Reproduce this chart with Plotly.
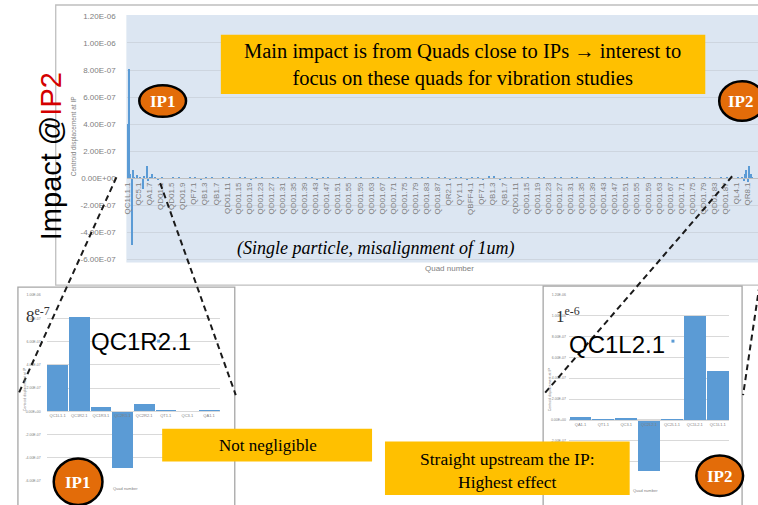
import plotly.graph_objects as go

W, H = 758, 505


def px(x):
    return x / W


def py(y):
    return 1 - y / H


# ---------------- Main chart: centroid displacement at IP per quad ----------------
main_tick_labels = [
    "QC1L1.1", "QC5.1", "QA1.7", "QD01.1", "QD01.5", "QD01.9", "QF7.1", "QB1.3", "QB1.7",
    "QD01.11", "QD01.15", "QD01.19", "QD01.23", "QD01.27", "QD01.31", "QD01.35", "QD01.39",
    "QD01.43", "QD01.47", "QD01.51", "QD01.55", "QD01.59", "QD01.63", "QD01.67", "QD01.71",
    "QD01.75", "QD01.79", "QD01.83", "QD01.87",
    "QR2.1", "QY1.1", "QBFF4.1", "QF7.1", "QB1.3", "QB1.7",
    "QD01.11", "QD01.15", "QD01.19", "QD01.23", "QD01.27", "QD01.31", "QD01.35", "QD01.39",
    "QD01.43", "QD01.47", "QD01.51", "QD01.55", "QD01.59", "QD01.63", "QD01.67", "QD01.71",
    "QD01.75", "QD01.79", "QD01.83", "QD01.87",
    "QL4.1", "QR8.1",
]
quads_per_label = 8
n_quads = 456

# quads right after IP1 (m)
ip1_impact = [
    4.0e-7, 8.1e-7, 3e-8, -4.9e-7, 6.5e-8, 1e-8, 0.0, 2.5e-8,
    0.0, 1e-8, 0.0, -8e-8, 1.5e-8, 0.0, 8.8e-8, -2e-8,
    1e-8, 0.0, 3.5e-8, 0.0, 1e-8, 0.0, -1e-8, 0.0,
]
# quads right before IP2 (m)
ip2_impact = [1e-8, -2e-8, 3e-8, 6.5e-8, -3e-8, 9e-8, 3.5e-8, 1e-8, 0.0, 0.0, 0.0, 0.0]
# arc quads, every 4th quad (nm)
arc_ripple_nm = [
    6, -4, 5, 8, -3, 6, 9, -5, 7, 4,
    -3, 5, 6, -4, 5, 3, -5, 6, 4, -3,
    5, 6, -4, 3, 5, -3, 6, 4, -5, 5,
    3, -4, 6, 5, -3, 4, 6, -4, 5, 3,
    -3, 5, 6, -4, 4, 5, -3, 6, 4, -4,
    5, 7, -5, 9, 6, -6, 10, 8, -7, 14,
    16, -9, 12, 8, -4, 6, 5, -3, 5, 4,
    -4, 6, 5, -3, 4, 6, -4, 5, 3, -3,
    5, 6, -4, 4, 5, -3, 6, 4, -4, 5,
    3, -3, 6, 5, -4, 4, 6, -3, 5, 4,
    -4, 6, 5, -3, 6,
]
main_y_labels = ["-6.00E-07", "-4.00E-07", "-2.00E-07", "0.00E+00", "2.00E-07",
                 "4.00E-07", "6.00E-07", "8.00E-07", "1.00E-06", "1.20E-06"]

# ---------------- Inset around IP1 ----------------
ip1_quads = ["QC1L1.1", "QC1R2.1", "QC1R3.1", "QC2R1.1", "QC2R2.1", "QT1.1", "QC3.1", "QA1.1"]
ip1_values = [4.0e-7, 8.1e-7, 3.5e-8, -4.9e-7, 6e-8, 1e-8, 0.0, 1e-8]
ip1_y_labels = ["-6.00E-07", "-4.00E-07", "-2.00E-07", "0.00E+00", "2.00E-07",
                "4.00E-07", "6.00E-07", "8.00E-07", "1.00E-06"]

# ---------------- Inset around IP2 ----------------
ip2_quads = ["QA1.1", "QT1.1", "QC3.1", "QC2L2.1", "QC2L1.1", "QC1L2.1", "QC1L1.1"]
ip2_values = [3e-8, -1.5e-8, 2e-8, -4.9e-7, -5e-9, 1.0e-6, 4.7e-7]
ip2_y_labels = ["-6.00E-07", "-4.00E-07", "-2.00E-07", "0.00E+00", "2.00E-07",
                "4.00E-07", "6.00E-07", "8.00E-07", "1.00E-06", "1.20E-06"]

BAR = "#5B9BD5"
GRID = "#D9D9D9"
TICK = "#808080"

# full series of the main chart
arc = [0.0] * (n_quads - len(ip1_impact) - len(ip2_impact))
for i, v in enumerate(arc_ripple_nm):
    arc[4 * i + 1] = v * 1e-9
impact = ip1_impact + arc + ip2_impact

fig = go.Figure()
fig.add_trace(go.Bar(x=list(range(n_quads)), y=impact, width=1.0, marker=dict(color=BAR, line=dict(width=0)),
                     xaxis="x", yaxis="y", showlegend=False))
fig.add_trace(go.Bar(x=ip1_quads, y=ip1_values, width=0.96, marker=dict(color=BAR, line=dict(width=0)),
                     xaxis="x2", yaxis="y2", showlegend=False))
fig.add_trace(go.Bar(x=ip2_quads, y=ip2_values, width=0.95, marker=dict(color=BAR, line=dict(width=0)),
                     xaxis="x3", yaxis="y3", showlegend=False))

# main axes geometry (px)
m_top, m_bot = 12, 262
k = 1.8e-6 / 246
m_range = [-6e-7 - 3 * k, 1.2e-6 + 1 * k]
m_zero_px = m_top + m_range[1] / (m_range[1] - m_range[0]) * (m_bot - m_top)

l_top, l_bot = 295, 483
l_range = [-6e-7, 1e-6]
l_zero_px = l_top + l_range[1] / (l_range[1] - l_range[0]) * (l_bot - l_top)

r_top, r_bot = 295, 484
r_range = [-6e-7, 1.2e-6]
r_zero_px = r_top + r_range[1] / (r_range[1] - r_range[0]) * (r_bot - r_top)

tickfont_main = dict(family="Liberation Sans", size=8, color=TICK)

fig.update_layout(
    width=W, height=H, margin=dict(l=0, r=0, t=0, b=0),
    paper_bgcolor="white", plot_bgcolor="rgba(0,0,0,0)",
    bargap=0, showlegend=False,
    xaxis=dict(domain=[px(123.3), 1], range=[-0.5, n_quads - 0.5],
               tickmode="array", tickvals=[quads_per_label * i for i in range(len(main_tick_labels))],
               ticktext=main_tick_labels, tickangle=-90, tickfont=tickfont_main,
               anchor="free", position=py(m_zero_px), showline=True, linecolor="#BFBFBF",
               linewidth=1, showgrid=False, zeroline=False, ticks=""),
    yaxis=dict(domain=[py(m_bot), py(m_top)], range=m_range, tickmode="array",
               tickvals=[float(t) for t in main_y_labels], ticktext=main_y_labels,
               tickfont=tickfont_main, gridcolor="#CDD5DF", gridwidth=1, zeroline=False,
               showline=False, ticks="", ticklabelstandoff=10),
    xaxis2=dict(domain=[px(43), px(217)], anchor="free", position=py(l_zero_px),
                tickfont=dict(family="Liberation Sans", size=4, color=TICK), tickangle=0,
                showline=True, linecolor=GRID, showgrid=False, zeroline=False, ticks=""),
    yaxis2=dict(domain=[py(l_bot), py(l_top)], range=l_range, anchor="x2", tickmode="array",
                tickvals=[float(t) for t in ip1_y_labels], ticktext=ip1_y_labels,
                tickfont=dict(family="Liberation Sans", size=3.5, color=TICK),
                gridcolor=GRID, zeroline=False, ticks="", ticklabelstandoff=5),
    xaxis3=dict(domain=[px(568), px(729)], anchor="free", position=py(r_zero_px),
                tickfont=dict(family="Liberation Sans", size=4, color=TICK), tickangle=0,
                showline=True, linecolor=GRID, showgrid=False, zeroline=False, ticks=""),
    yaxis3=dict(domain=[py(r_bot), py(r_top)], range=r_range, anchor="x3", tickmode="array",
                tickvals=[float(t) for t in ip2_y_labels], ticktext=ip2_y_labels,
                tickfont=dict(family="Liberation Sans", size=3.5, color=TICK),
                gridcolor=GRID, zeroline=False, ticks="", ticklabelstandoff=2),
)

shapes = []


def rect(x0, y0, x1, y1, **kw):
    d = dict(type="rect", xref="paper", yref="paper", x0=px(x0), x1=px(x1), y0=py(y1), y1=py(y0))
    d.update(kw)
    shapes.append(d)


def seg(x0, y0, x1, y1, **kw):
    d = dict(type="line", xref="paper", yref="paper", x0=px(x0), y0=py(y0), x1=px(x1), y1=py(y1))
    d.update(kw)
    shapes.append(d)


def ellipse(x0, y0, x1, y1, **kw):
    d = dict(type="circle", xref="paper", yref="paper", x0=px(x0), x1=px(x1), y0=py(y1), y1=py(y0))
    d.update(kw)
    shapes.append(d)


# plot-area fill of the main chart
rect(123, m_top, 760, m_bot, fillcolor="#DCE6F2", line=dict(width=0), layer="below")
# chart frames
rect(52, 2, 775, 285, line=dict(color="#BFBFBF", width=1.3), fillcolor="rgba(0,0,0,0)", layer="above")
rect(14, 287, 232, 520, line=dict(color="#A6A6A6", width=1.3), fillcolor="rgba(0,0,0,0)", layer="above")
rect(542, 286, 742, 520, line=dict(color="#A6A6A6", width=1.3), fillcolor="rgba(0,0,0,0)", layer="above")
# zoom guides
dash = dict(color="#1A1A1A", width=2, dash="6px,4px")
seg(113, 176, 14, 396, line=dash, layer="above")
seg(157, 182, 233, 396, line=dash, layer="above")
seg(732, 175, 542, 396, line=dash, layer="above")
seg(761, 275, 743, 396, line=dash, layer="above")
# call-out boxes
ORANGE_BOX = "#FFC000"
rect(218, 32, 705, 92, fillcolor=ORANGE_BOX, line=dict(width=0), layer="above")
rect(159, 430, 370, 463, fillcolor=ORANGE_BOX, line=dict(width=0), layer="above")
rect(383, 443, 629, 497, fillcolor=ORANGE_BOX, line=dict(width=0), layer="above")
# IP markers
IP_FILL = "#E36C09"
ipline = dict(color="black", width=2.5)
ellipse(136, 83, 183, 115, fillcolor=IP_FILL, line=ipline, layer="above")
ellipse(719, 79, 765, 119, fillcolor=IP_FILL, line=ipline, layer="above")
ellipse(50, 460, 99, 507, fillcolor=IP_FILL, line=ipline, layer="above")
ellipse(696, 457, 743, 498, fillcolor=IP_FILL, line=ipline, layer="above")
# data-point markers next to the inset titles
rect(154, 340, 157, 343, fillcolor=BAR, line=dict(width=0), layer="above")
rect(671, 340, 674, 343, fillcolor=BAR, line=dict(width=0), layer="above")

fig.update_layout(shapes=shapes)

annotations = []


def text(x, y, s, size, color="black", family="Liberation Serif", angle=0, **kw):
    d = dict(xref="paper", yref="paper", x=px(x), y=py(y), text=s, showarrow=False,
             xanchor="center", yanchor="middle", textangle=angle,
             font=dict(family=family, size=size, color=color))
    d.update(kw)
    annotations.append(d)


text(461, 63, "Main impact is from Quads close to IPs <b>\u2192</b> interest to<br>focus on these quads for vibration studies", 20.5)
text(265, 447, "Not negligible", 17)
text(506, 472, "Straight upstream the IP:<br>Highest effect", 17.5)
text(373, 248, "<i>(Single particle, misalignment of 1um)</i>", 18)
text(448, 268, "Quad number", 8, color=TICK, family="Liberation Sans")
text(70, 135, "Centroid displacement at IP", 6.5, color=TICK, family="Liberation Sans", angle=-90)
text(48, 155, "Impact @<span style='color:#D40000'>IP2</span>", 29, family="Liberation Sans", angle=-90)

# inset decorations
text(122, 490, "Quad number", 4, color=TICK, family="Liberation Sans")
text(645, 492, "Quad number", 4, color=TICK, family="Liberation Sans")
text(21, 390, "Centroid displacement at IP", 3.5, color=TICK, family="Liberation Sans", angle=-90)
text(549, 390, "Centroid displacement at IP", 3.5, color=TICK, family="Liberation Sans", angle=-90)
text(138, 342, "QC1R2.1", 24, family="Liberation Sans")
text(616, 345, "QC1L2.1", 24, family="Liberation Sans")
text(34, 315, "8<sup>e-7</sup>", 17, color="#333333")
text(567, 315, "1<sup>e-6</sup>", 17, color="#333333")

# IP labels
for (x, y, s) in [(159.5, 99, "IP1"), (741, 99, "IP2"), (74.5, 484, "IP1"), (719.5, 478, "IP2")]:
    text(x, y, "<b>%s</b>" % s, 17, color="white")

fig.update_layout(annotations=annotations)

fig.write_html("out.html")
